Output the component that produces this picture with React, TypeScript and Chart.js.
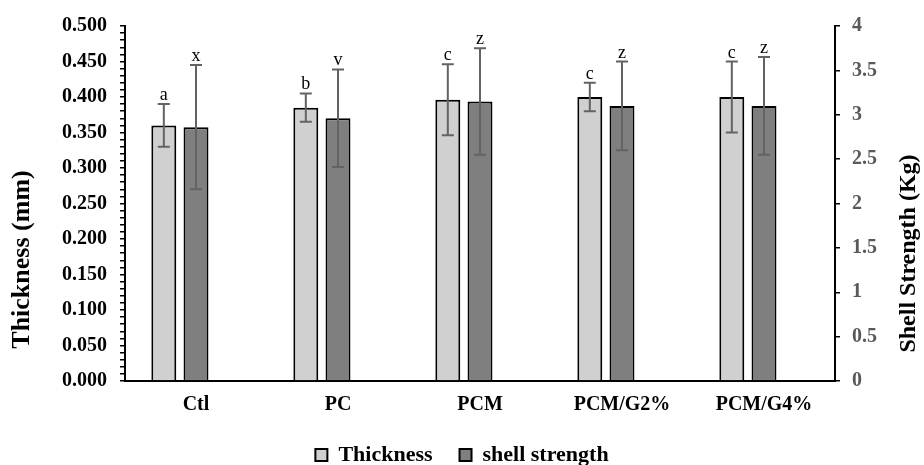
import { useEffect, useRef } from 'react';
import { Chart, registerables } from 'chart.js';

Chart.register(...registerables);

const categories = ['Ctl', 'PC', 'PCM', 'PCM/G2%', 'PCM/G4%'];
const thickness = [0.36, 0.385, 0.396, 0.4, 0.4];
const thicknessErr = [0.03, 0.02, 0.05, 0.02, 0.05];
const strength = [2.86, 2.96, 3.15, 3.1, 3.1];
const strengthErr = [0.7, 0.55, 0.6, 0.5, 0.55];
const thicknessLetters = ['a', 'b', 'c', 'c', 'c'];
const strengthLetters = ['x', 'v', 'z', 'z', 'z'];
const seriesNames = ['Thickness', 'shell strength'];
const leftTitle = 'Thickness (mm)';
const rightTitle = 'Shell Strength (Kg)';

const SERIF = "'Liberation Serif', 'Times New Roman', Times, serif";
const LIGHT = '#d0d0d0';
const DARK = '#7f7f7f';
const ERR_COLOR = '#636363';

export default function App() {
  const ref = useRef<HTMLCanvasElement>(null);

  useEffect(() => {
    if (!ref.current) return;

    const errorBars = {
      id: 'errorBars',
      afterDatasetsDraw(chart: any) {
        const ctx = chart.ctx;
        const sets = [
          { i: 0, vals: thickness, errs: thicknessErr, letters: thicknessLetters, axis: 'y' },
          { i: 1, vals: strength, errs: strengthErr, letters: strengthLetters, axis: 'y1' },
        ];
        sets.forEach((s) => {
          const meta = chart.getDatasetMeta(s.i);
          const scale = chart.scales[s.axis];
          meta.data.forEach((bar: any, k: number) => {
            const x = bar.x;
            const yTop = scale.getPixelForValue(s.vals[k] + s.errs[k]);
            const yBot = scale.getPixelForValue(s.vals[k] - s.errs[k]);
            ctx.save();
            ctx.strokeStyle = ERR_COLOR;
            ctx.lineWidth = 2;
            ctx.beginPath();
            ctx.moveTo(x, yTop);
            ctx.lineTo(x, yBot);
            ctx.moveTo(x - 6, yTop);
            ctx.lineTo(x + 6, yTop);
            ctx.moveTo(x - 6, yBot);
            ctx.lineTo(x + 6, yBot);
            ctx.stroke();
            ctx.fillStyle = '#000';
            ctx.font = `18px ${SERIF}`;
            ctx.textAlign = 'center';
            ctx.textBaseline = 'alphabetic';
            ctx.fillText(s.letters[k], x, yTop - 4);
            ctx.restore();
          });
        });
      },
    };

    const axisTitles = {
      id: 'axisTitles',
      afterDraw(chart: any) {
        const ctx = chart.ctx;
        const area = chart.chartArea;
        const midY = (area.top + area.bottom) / 2;
        ctx.save();
        ctx.fillStyle = '#000';
        ctx.textAlign = 'center';
        ctx.textBaseline = 'middle';
        ctx.save();
        ctx.font = `bold 26px ${SERIF}`;
        ctx.translate(area.left - 102.5, midY + 56);
        ctx.rotate(-Math.PI / 2);
        ctx.fillText(leftTitle, 0, 0);
        ctx.restore();
        ctx.save();
        ctx.font = `bold 24px ${SERIF}`;
        ctx.translate(area.right + 74, midY + 50);
        ctx.rotate(-Math.PI / 2);
        ctx.fillText(rightTitle, 0, 0);
        ctx.restore();
        ctx.restore();
      },
    };

    const chart = new Chart(ref.current, {
      type: 'bar',
      data: {
        labels: categories,
        datasets: [
          {
            label: seriesNames[0],
            data: thickness,
            backgroundColor: LIGHT,
            borderColor: '#000',
            borderWidth: 2,
            yAxisID: 'y',
          },
          {
            label: seriesNames[1],
            data: strength,
            backgroundColor: DARK,
            borderColor: '#000',
            borderWidth: 2,
            yAxisID: 'y1',
          },
          {
            label: '',
            data: categories.map(() => null),
            backgroundColor: 'rgba(0,0,0,0)',
            borderWidth: 0,
            yAxisID: 'y',
          },
        ],
      },
      options: {
        responsive: false,
        animation: false,
        categoryPercentage: 0.68,
        barPercentage: 0.775,
        layout: { padding: { top: 26, left: 0, right: 0, bottom: 0 } },
        plugins: {
          tooltip: { enabled: false },
          legend: {
            position: 'bottom',
            labels: {
              font: { family: SERIF, size: 22, weight: 'bold' },
              color: '#000',
              boxWidth: 12,
              boxHeight: 12,
              padding: 27,
              filter: (item: any) => item.datasetIndex < 2,
            },
          },
        },
        scales: {
          x: {
            grid: { display: false, drawTicks: false },
            border: { display: true, color: '#000', width: 2 },
            ticks: {
              color: '#000',
              font: { family: SERIF, size: 20, weight: 'bold' },
              padding: 12,
              maxRotation: 0,
              autoSkip: false,
            },
            afterFit: (scale: any) => {
              scale.height = 36;
            },
          },
          y: {
            position: 'left',
            min: 0,
            max: 0.5,
            grid: { drawOnChartArea: false, drawTicks: true, tickLength: 5, color: '#000', lineWidth: 1.5 },
            border: { display: true, color: '#000', width: 2 },
            ticks: {
              stepSize: 0.01,
              autoSkip: false,
              color: '#000',
              padding: 13,
              font: { family: SERIF, size: 20, weight: 'bold' },
              callback: (v: any) => {
                const k = Math.round(Number(v) * 100);
                return k % 5 === 0 ? (k / 100).toFixed(3) : '';
              },
            },
            afterFit: (scale: any) => {
              scale.width = 125;
            },
          },
          y1: {
            position: 'right',
            min: 0,
            max: 4,
            grid: { drawOnChartArea: false, drawTicks: true, tickLength: 5, color: '#000', lineWidth: 1.5 },
            border: { display: true, color: '#000', width: 2 },
            ticks: {
              stepSize: 0.5,
              autoSkip: false,
              color: '#595959',
              padding: 12,
              font: { family: SERIF, size: 20, weight: 'bold' },
              callback: (v: any) => String(Math.round(Number(v) * 10) / 10),
            },
            afterFit: (scale: any) => {
              scale.width = 89;
            },
          },
        },
      },
      plugins: [errorBars, axisTitles],
    } as any);

    return () => chart.destroy();
  }, []);

  return (
    <div style={{ position: 'fixed', left: 0, top: 0, width: 924, height: 465, overflow: 'hidden', background: '#fff' }}>
      <canvas ref={ref} width={924} height={476} style={{ display: 'block' }} />
    </div>
  );
}
